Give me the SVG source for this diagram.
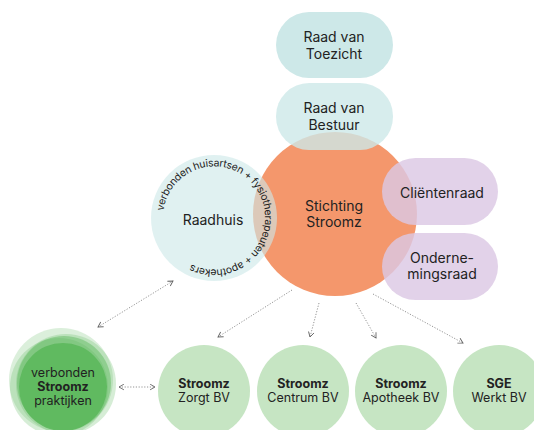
<svg xmlns="http://www.w3.org/2000/svg" xmlns:xlink="http://www.w3.org/1999/xlink" width="534" height="430" viewBox="0 0 534 430">
<style>
text{font-family:Inter,"Noto Sans","Liberation Sans",sans-serif;fill:#222;text-anchor:middle}
.t14{font-size:14px}
.t13{font-size:12.5px}
.b{font-weight:700}
.blue{fill:#cde8e8}
.purple{fill:#dcc8e4;opacity:0.82}
.bv{fill:#c6e5c3}
.conn{fill:none;stroke:#888;stroke-width:0.9;stroke-dasharray:1.2 1.6}
.arc{font-size:10.4px}
</style>
<defs>
<marker id="ah" viewBox="0 0 10 10" refX="8" refY="5" markerWidth="7" markerHeight="7" orient="auto-start-reverse" markerUnits="userSpaceOnUse">
<path d="M1 1 L8 5 L1 9" fill="none" stroke="#666" stroke-width="1.3"/>
</marker>
<path id="rhpath" d="M163.5 210.9 A51 51 0 1 1 264.5 225.1 A51 51 0 1 1 163.5 210.9"/>
</defs>

<g id="stichting">
<circle cx="335" cy="214" r="82" fill="#f4976c"/>
</g>

<g id="raad-toezicht">
<rect class="blue" x="276" y="12" width="117" height="66" rx="33"/>
<text class="t14" x="334" y="42">Raad van</text>
<text class="t14" x="334" y="59">Toezicht</text>
</g>

<g id="raad-bestuur">
<rect class="blue" x="276" y="83" width="117" height="67" rx="33" opacity="0.8"/>
<text class="t14" x="334" y="113">Raad van</text>
<text class="t14" x="334" y="130">Bestuur</text>
</g>

<g id="raadhuis">
<circle class="blue" cx="214" cy="218" r="63" opacity="0.62"/>
<text class="t14" x="213" y="225">Raadhuis</text>
<text class="arc" style="text-anchor:start"><textPath xlink:href="#rhpath" textLength="258" lengthAdjust="spacing">verbonden huisartsen + fysiotherapeuten + apothekers</textPath></text>
</g>

<g id="stichting-label">
<text class="t14" x="334" y="211">Stichting</text>
<text class="t14" x="334" y="227">Stroomz</text>
</g>

<g id="clientenraad">
<rect class="purple" x="382" y="158" width="116" height="67" rx="33.5"/>
<text class="t14" x="442" y="198">Cliëntenraad</text>
</g>

<g id="ondernemingsraad">
<rect class="purple" x="382" y="233" width="116" height="67" rx="33.5"/>
<text class="t14" x="442" y="263">Onderne-</text>
<text class="t14" x="442" y="279">mingsraad</text>
</g>

<g id="praktijken">
<circle cx="61" cy="380" r="52" fill="#5cb85c" opacity="0.22"/>
<circle cx="66" cy="384" r="50" fill="#5cb85c" opacity="0.25"/>
<circle cx="59" cy="387" r="49" fill="#5cb85c" opacity="0.25"/>
<circle cx="64" cy="383" r="47" fill="#5cb85c" opacity="0.45"/>
<circle cx="63" cy="387" r="44" fill="#5cb85c" opacity="0.9"/>
<text class="t13" x="63" y="377">verbonden</text>
<text class="t13 b" x="63" y="391">Stroomz</text>
<text class="t13" x="63" y="405">praktijken</text>
</g>

<g id="zorgt">
<circle class="bv" cx="204" cy="391" r="46"/>
<text class="t13 b" x="204" y="388">Stroomz</text>
<text class="t13" x="204" y="402">Zorgt BV</text>
</g>

<g id="centrum">
<circle class="bv" cx="303" cy="391" r="46"/>
<text class="t13 b" x="303" y="388">Stroomz</text>
<text class="t13" x="303" y="402">Centrum BV</text>
</g>

<g id="apotheek">
<circle class="bv" cx="401" cy="391" r="46"/>
<text class="t13 b" x="401" y="388">Stroomz</text>
<text class="t13" x="401" y="402">Apotheek BV</text>
</g>

<g id="sge">
<circle class="bv" cx="499" cy="391" r="46"/>
<text class="t13 b" x="499" y="388">SGE</text>
<text class="t13" x="499" y="402">Werkt BV</text>
</g>

<g id="connectors">
<line class="conn" x1="173" y1="281" x2="98" y2="327" marker-start="url(#ah)" marker-end="url(#ah)"/>
<line class="conn" x1="119" y1="387" x2="155" y2="387" marker-start="url(#ah)" marker-end="url(#ah)"/>
<line class="conn" x1="292" y1="290" x2="218" y2="337" marker-end="url(#ah)"/>
<line class="conn" x1="319" y1="303" x2="310" y2="337" marker-end="url(#ah)"/>
<line class="conn" x1="356" y1="303" x2="376" y2="338" marker-end="url(#ah)"/>
<line class="conn" x1="373" y1="294" x2="463" y2="343" marker-end="url(#ah)"/>
</g>
</svg>
